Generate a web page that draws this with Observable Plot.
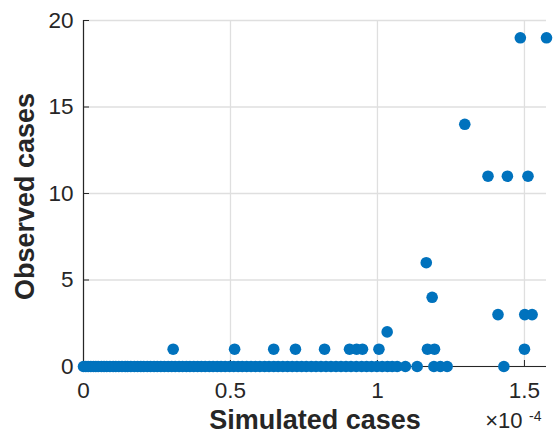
<!DOCTYPE html>
<html>
<head>
<meta charset="utf-8">
<script src="https://cdn.jsdelivr.net/npm/d3@7"></script>
<script src="https://cdn.jsdelivr.net/npm/@observablehq/plot@0.6"></script>
<style>
  html, body { margin: 0; padding: 0; background: #fff; }
</style>
</head>
<body>
<div id="chart"></div>
<script>
// Simulated cases (x) and observed cases (y)
const zeroX = [0, 0.008, 0.016, 0.025, 0.034, 0.042, 0.05, 0.061, 0.07, 0.079, 0.09, 0.101, 0.11, 0.12, 0.131, 0.142, 0.15, 0.161, 0.173, 0.184, 0.195, 0.205, 0.217, 0.228, 0.24, 0.251, 0.263, 0.275, 0.288, 0.3, 0.312, 0.325, 0.337, 0.35, 0.362, 0.375, 0.388, 0.401, 0.414, 0.428, 0.441, 0.455, 0.468, 0.482, 0.497, 0.511, 0.526, 0.54, 0.555, 0.57, 0.585, 0.6, 0.616, 0.631, 0.647, 0.662, 0.678, 0.694, 0.71, 0.726, 0.742, 0.758, 0.775, 0.791, 0.808, 0.825, 0.842, 0.859, 0.876, 0.893, 0.91, 0.928, 0.946, 0.963, 0.98, 0.998, 1.016, 1.034, 1.05, 1.067, 1.095, 1.135, 1.192, 1.214, 1.237, 1.43]; // ×1e-4, observed = 0
const oneX = [0.305, 0.514, 0.647, 0.721, 0.82, 0.905, 0.929, 0.949, 1.005, 1.17, 1.194, 1.5]; // observed = 1
const otherX = [1.033, 1.41, 1.501, 1.526, 1.186, 1.166, 1.376, 1.442, 1.512, 1.297, 1.486, 1.575];
const otherY = [2, 3, 3, 3, 4, 6, 11, 11, 11, 14, 19, 19];

const xTicks = [0, 0.5e-4, 1e-4, 1.5e-4];
const xTickLabels = ["0", "0.5", "1", "1.5"];
const yTicks = [0, 5, 10, 15, 20];
const xMax = 1.575e-4;

const data = [
  ...zeroX.map(x => ({x: x * 1e-4, y: 0})),
  ...oneX.map(x => ({x: x * 1e-4, y: 1})),
  ...otherX.map((x, i) => ({x: x * 1e-4, y: otherY[i]}))
];

const axisColor = "#262626";
const gridColor = "#dfdfdf";
const font = "'Liberation Sans', Arial, sans-serif";

const chart = Plot.plot({
  width: 557,
  height: 439,
  marginLeft: 83,
  marginRight: 11,
  marginTop: 20,
  marginBottom: 73,
  style: {fontFamily: font, fontSize: "22px", color: axisColor, background: "#fff"},
  x: {domain: [0, xMax]},
  y: {domain: [0, 20]},
  marks: [
    Plot.gridX(xTicks, {stroke: gridColor, strokeOpacity: 1, strokeWidth: 1.3}),
    Plot.gridY(yTicks, {stroke: gridColor, strokeOpacity: 1, strokeWidth: 1.3}),
    Plot.ruleX([0], {stroke: axisColor, strokeWidth: 1.2}),
    Plot.ruleY([0], {stroke: axisColor, strokeWidth: 1.2}),
    // inward ticks
    Plot.axisX(xTicks, {tickSize: -6, fill: "none", stroke: axisColor, label: null}),
    Plot.axisY(yTicks, {tickSize: -6, fill: "none", stroke: axisColor, label: null}),
    // tick labels
    Plot.axisX(xTicks, {tickSize: 0, tickPadding: 16, tickFormat: (d, i) => xTickLabels[i], label: null, fill: axisColor, fontSize: 22.5}),
    Plot.axisY(yTicks, {tickSize: 0, tickPadding: 10, label: null, fill: axisColor, fontSize: 22.5}),
    Plot.dot(data, {x: "x", y: "y", r: 5.8, fill: "#0072BD", stroke: null}),
    // axis titles
    Plot.text(["Simulated cases"], {frameAnchor: "bottom", dy: 54, fontWeight: "bold", fontSize: 27, fill: axisColor, lineAnchor: "middle"}),
    Plot.text(["Observed cases"], {frameAnchor: "left", dx: -58, dy: 3, rotate: -90, textAnchor: "middle", fontWeight: "bold", fontSize: 27, fill: axisColor, lineAnchor: "middle"}),
    // exponent
    Plot.text(["×10"], {frameAnchor: "bottom-right", dx: -24, dy: 54, textAnchor: "end", fontSize: 22, fill: axisColor, lineAnchor: "middle"}),
    Plot.text(["-4"], {frameAnchor: "bottom-right", dx: -5, dy: 50, textAnchor: "end", fontSize: 14, fill: axisColor, lineAnchor: "middle"})
  ]
});
document.getElementById("chart").appendChild(chart);
</script>
</body>
</html>
